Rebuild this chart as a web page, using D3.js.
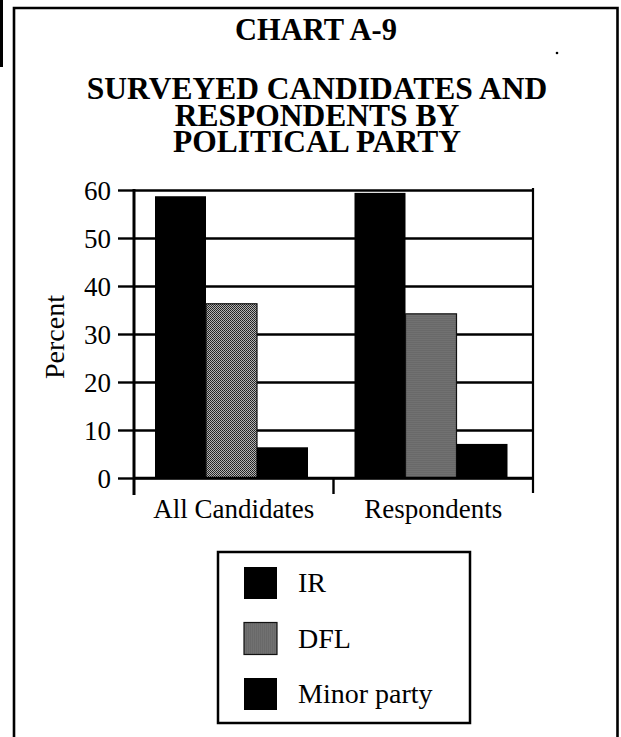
<!DOCTYPE html>
<html>
<head>
<meta charset="utf-8">
<script src="https://cdn.jsdelivr.net/npm/d3@7"></script>
<style>
  html, body { margin: 0; padding: 0; background: #fff; }
  svg { display: block; }
  text { font-family: "Liberation Serif", "Times New Roman", serif; fill: #000; }
</style>
</head>
<body>
<script>
// Chart data
const categories = ["All Candidates", "Respondents"];
const parties = ["IR", "DFL", "Minor party"];
const irValues = [58.7, 59.4];
const dflValues = [36.3, 34.2];
const minorValues = [6.4, 7.1];
const yTicks = [0, 10, 20, 30, 40, 50, 60];
const chartNumber = "CHART A-9";
const titleLines = ["SURVEYED CANDIDATES AND", "RESPONDENTS BY", "POLITICAL PARTY"];
const yAxisTitle = "Percent";

const W = 621, H = 737;
const svg = d3.select("body").append("svg").attr("width", W).attr("height", H);

// Stippled grey fill used for DFL
const defs = svg.append("defs");
const pat = defs.append("pattern").attr("id", "stipple")
  .attr("patternUnits", "userSpaceOnUse").attr("width", 2).attr("height", 2);
pat.append("rect").attr("width", 2).attr("height", 2).attr("fill", "#b4b4b4");
pat.append("rect").attr("x", 0).attr("y", 0).attr("width", 1).attr("height", 1).attr("fill", "#1e1e1e");
pat.append("rect").attr("x", 1).attr("y", 1).attr("width", 1).attr("height", 1).attr("fill", "#2e2e2e");

const fills = { "IR": "#000", "DFL": "url(#stipple)", "Minor party": "#000" };
const seriesByParty = { "IR": irValues, "DFL": dflValues, "Minor party": minorValues };

// Outer frame (open at the bottom)
svg.append("path")
  .attr("d", "M14,737 L14,8 L617.5,8 L617.5,737")
  .attr("fill", "none").attr("stroke", "#000").attr("stroke-width", 2.6);
// page edge mark on the far left
svg.append("line").attr("x1", 1.5).attr("x2", 1.5).attr("y1", 0).attr("y2", 67)
  .attr("stroke", "#000").attr("stroke-width", 3);
svg.append("circle").attr("cx", 557).attr("cy", 53).attr("r", 1.3).attr("fill", "#000");

// Titles
svg.append("text").attr("x", 316).attr("y", 40).attr("text-anchor", "middle")
  .attr("font-size", 30.5).attr("font-weight", "bold").text(chartNumber);
svg.append("text").attr("text-anchor", "middle")
  .attr("font-size", 31.5).attr("font-weight", "bold")
  .selectAll("tspan").data(titleLines).join("tspan")
  .attr("x", 317).attr("y", (d, i) => 99 + i * 26.5).text(d => d);

// Scales
const y = d3.scaleLinear().domain([0, 60]).range([478, 190]);
const x0 = d3.scaleBand().domain(categories).range([134, 533]).paddingInner(0).paddingOuter(0);
const x1 = d3.scaleBand().domain(parties).range([21, 174]);

const left = x0.range()[0], right = x0.range()[1];

// Horizontal gridlines
svg.append("g")
  .attr("transform", `translate(${left},0)`)
  .call(d3.axisLeft(y).tickValues(yTicks).tickSize(-(right - left)).tickFormat(""))
  .call(g => g.select(".domain").remove())
  .call(g => g.selectAll(".tick line").attr("stroke", "#000").attr("stroke-width", 2.4));

// Bars
const rows = categories.map((c, i) => parties.map(p => ({ cat: c, party: p, value: seriesByParty[p][i] })));
svg.append("g").selectAll("g").data(rows).join("g")
  .attr("transform", d => `translate(${x0(d[0].cat)},0)`)
  .selectAll("rect").data(d => d).join("rect")
  .attr("x", d => x1(d.party))
  .attr("y", d => y(d.value))
  .attr("width", x1.bandwidth())
  .attr("height", d => y(0) - y(d.value))
  .attr("fill", d => fills[d.party])
  .attr("stroke", d => d.party === "DFL" ? "#111" : "none")
  .attr("stroke-width", 1.2);

// Y axis: ticks and labels
svg.append("g")
  .attr("transform", `translate(${left},0)`)
  .call(d3.axisLeft(y).tickValues(yTicks).tickSize(16).tickPadding(7))
  .call(g => g.select(".domain").remove())
  .call(g => g.selectAll(".tick line").attr("stroke", "#000").attr("stroke-width", 2.4))
  .call(g => g.selectAll(".tick text")
    .attr("font-family", "Liberation Serif, Times New Roman, serif")
    .attr("font-size", 27).attr("fill", "#000").attr("dy", "0.34em"));

// Axis frame: left and right verticals, baseline
const axisBottomY = y(0) + 17;
svg.append("line").attr("x1", left).attr("x2", left).attr("y1", y(60) - 1).attr("y2", axisBottomY)
  .attr("stroke", "#000").attr("stroke-width", 3);
svg.append("line").attr("x1", right).attr("x2", right).attr("y1", y(60) - 2).attr("y2", axisBottomY - 2)
  .attr("stroke", "#000").attr("stroke-width", 2.2);
svg.append("line").attr("x1", left).attr("x2", right).attr("y1", y(0)).attr("y2", y(0))
  .attr("stroke", "#000").attr("stroke-width", 2.4);

// X axis: category labels and divider between categories
svg.append("g")
  .attr("transform", `translate(0,${y(0)})`)
  .call(d3.axisBottom(x0).tickSize(0).tickPadding(35))
  .call(g => g.select(".domain").remove())
  .call(g => g.selectAll(".tick text")
    .attr("font-family", "Liberation Serif, Times New Roman, serif")
    .attr("font-size", 27).attr("fill", "#000").attr("dy", "0.2em"));
svg.append("g").selectAll("line").data(categories.slice(1)).join("line")
  .attr("x1", d => x0(d)).attr("x2", d => x0(d))
  .attr("y1", y(0)).attr("y2", axisBottomY - 1)
  .attr("stroke", "#000").attr("stroke-width", 2.4);

// Y axis title
svg.append("text")
  .attr("transform", "translate(64,337) rotate(-90)")
  .attr("text-anchor", "middle").attr("font-size", 28).text(yAxisTitle);

// Legend
const lg = svg.append("g");
lg.append("rect").attr("x", 218).attr("y", 552).attr("width", 252).attr("height", 171)
  .attr("fill", "none").attr("stroke", "#000").attr("stroke-width", 2.5);
const rowY = d3.scalePoint().domain(parties).range([583, 694]);
const item = lg.selectAll("g").data(parties).join("g")
  .attr("transform", d => `translate(0,${rowY(d)})`);
item.append("rect").attr("x", 244).attr("y", -16).attr("width", 33).attr("height", 32)
  .attr("fill", d => fills[d]).attr("stroke", d => d === "DFL" ? "#111" : "none").attr("stroke-width", 1.2);
item.append("text").attr("x", 298).attr("y", 9).attr("font-size", 28).text(d => d);
</script>
</body>
</html>
